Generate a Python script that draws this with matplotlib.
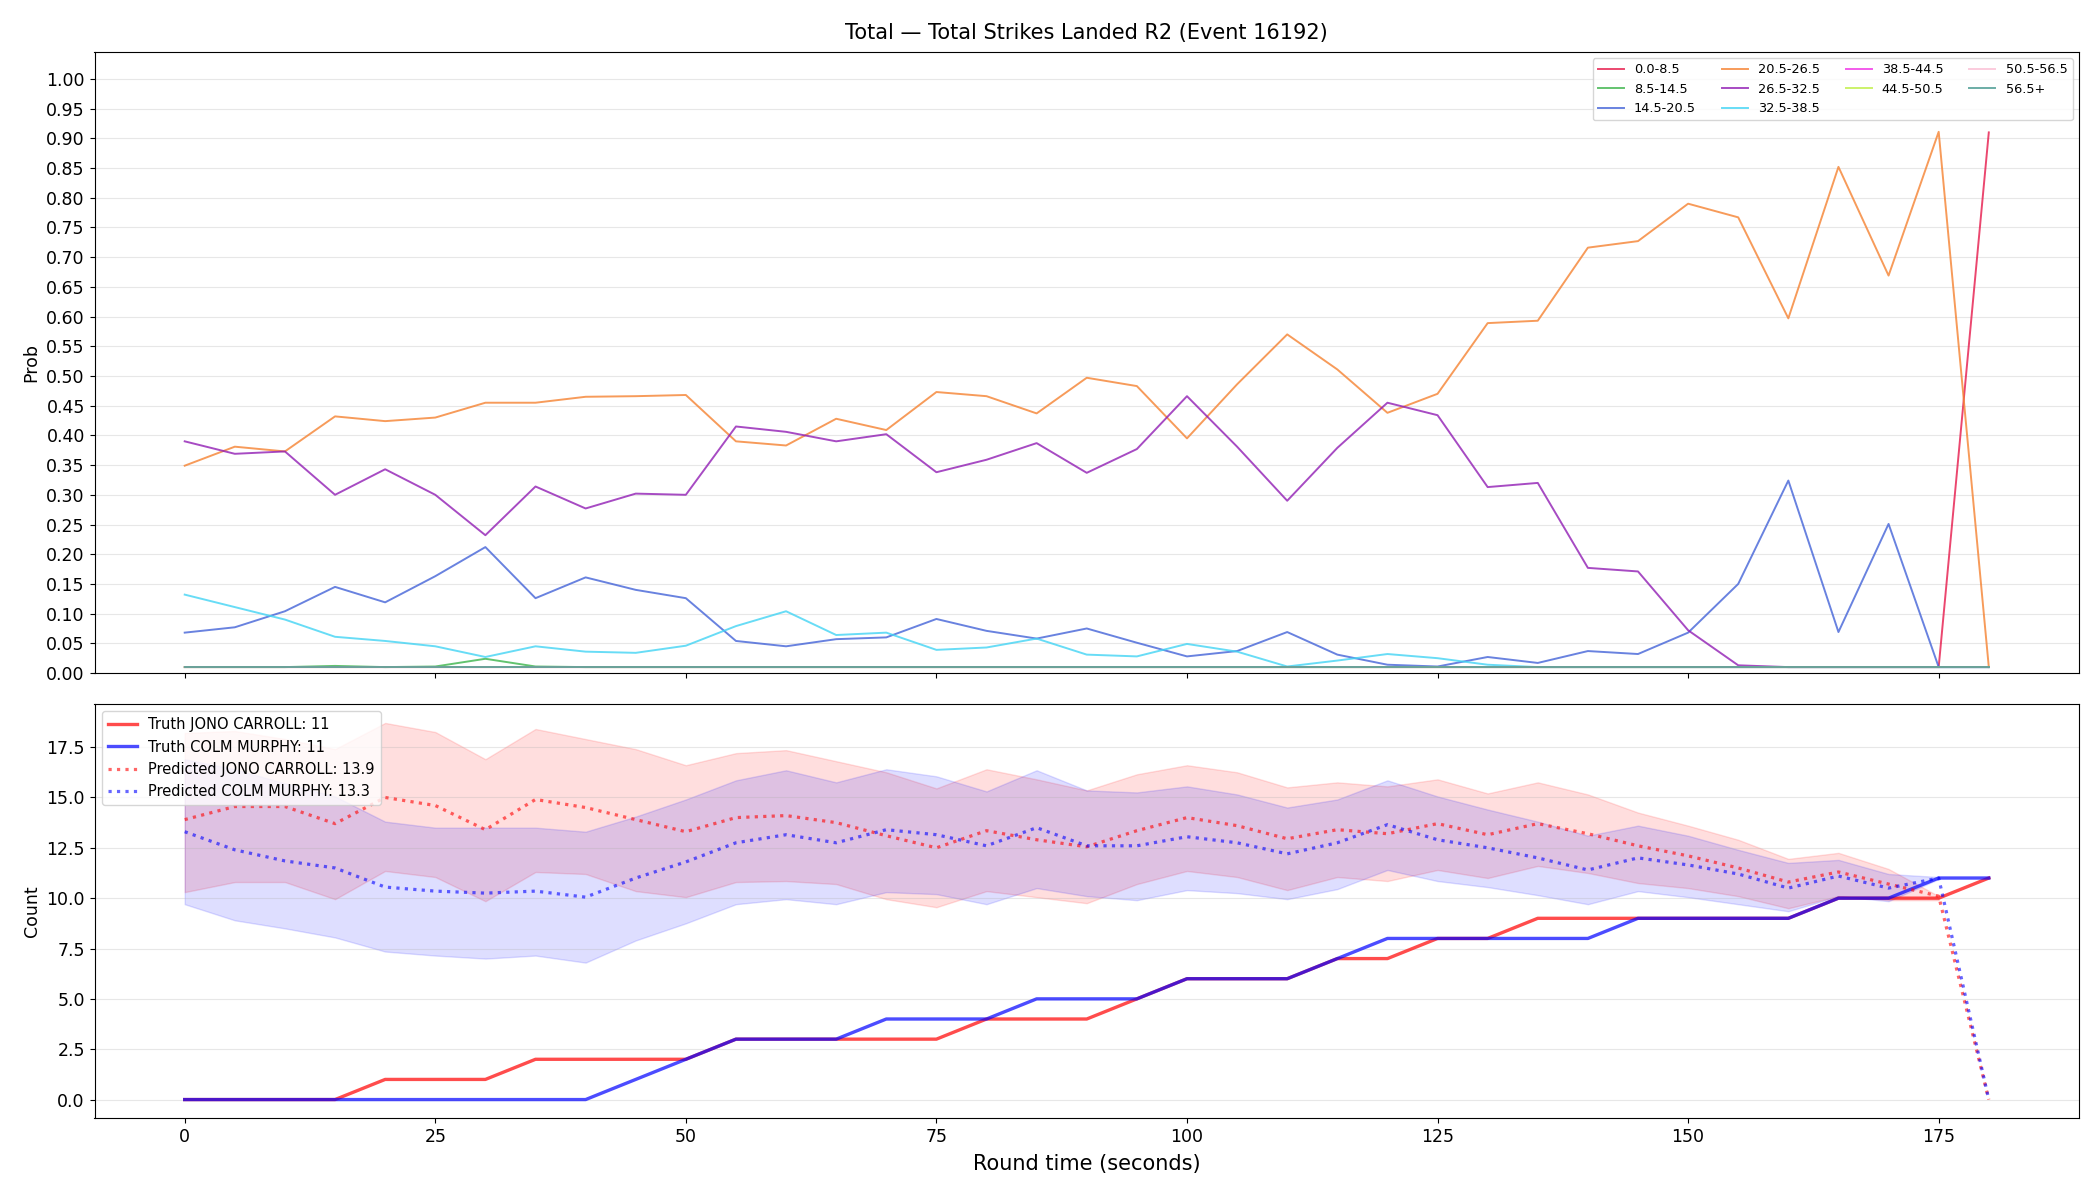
import matplotlib

matplotlib.use("Agg")
import matplotlib.pyplot as plt
from matplotlib.ticker import MultipleLocator

TITLE = "Total — Total Strikes Landed R2 (Event 16192)"

# round time in seconds (one sample every 5 s)
TIMES = [0, 5, 10, 15, 20, 25, 30, 35, 40, 45, 50, 55, 60, 65, 70, 75, 80, 85,
         90, 95, 100, 105, 110, 115, 120, 125, 130, 135, 140, 145, 150, 155,
         160, 165, 170, 175, 180]

BINS = ["0.0-8.5", "8.5-14.5", "14.5-20.5", "20.5-26.5", "26.5-32.5",
        "32.5-38.5", "38.5-44.5", "44.5-50.5", "50.5-56.5", "56.5+"]
BIN_COLORS = ["#e6194b", "#3cb44b", "#4363d8", "#f58231", "#911eb4",
              "#42d4f4", "#f032e6", "#bfef45", "#fabed4", "#469990"]

FLOOR = [0.01] * 37

prob_0_8 = [0.01] * 36 + [0.91]
prob_8_14 = [0.01, 0.01, 0.01, 0.012, 0.01, 0.011, 0.024, 0.011] + [0.01] * 29
prob_14_20 = [0.068, 0.077, 0.104, 0.145, 0.119, 0.163, 0.212, 0.126, 0.161,
              0.140, 0.126, 0.054, 0.045, 0.057, 0.060, 0.091, 0.071, 0.058,
              0.075, 0.051, 0.028, 0.037, 0.069, 0.031, 0.014, 0.011, 0.027,
              0.017, 0.037, 0.032, 0.068, 0.150, 0.324, 0.069, 0.251, 0.010,
              0.010]
prob_20_26 = [0.349, 0.381, 0.373, 0.432, 0.424, 0.430, 0.455, 0.455, 0.465,
              0.466, 0.468, 0.390, 0.383, 0.428, 0.409, 0.473, 0.466, 0.437,
              0.497, 0.483, 0.395, 0.486, 0.570, 0.511, 0.438, 0.470, 0.589,
              0.593, 0.716, 0.727, 0.790, 0.767, 0.597, 0.852, 0.669, 0.911,
              0.010]
prob_26_32 = [0.390, 0.369, 0.373, 0.300, 0.343, 0.300, 0.232, 0.314, 0.277,
              0.302, 0.300, 0.415, 0.406, 0.390, 0.402, 0.338, 0.359, 0.387,
              0.337, 0.377, 0.466, 0.381, 0.290, 0.379, 0.455, 0.434, 0.313,
              0.320, 0.177, 0.171, 0.072, 0.013, 0.010, 0.010, 0.010, 0.010,
              0.010]
prob_32_38 = [0.132, 0.111, 0.090, 0.061, 0.054, 0.045, 0.027, 0.045, 0.036,
              0.034, 0.046, 0.079, 0.104, 0.064, 0.068, 0.039, 0.043, 0.058,
              0.031, 0.028, 0.049, 0.036, 0.011, 0.021, 0.032, 0.025, 0.014]
prob_32_38 = prob_32_38 + [0.01] * 10
prob_38_44 = FLOOR
prob_44_50 = FLOOR
prob_50_56 = FLOOR
prob_56_up = FLOOR

PROBS = [prob_0_8, prob_8_14, prob_14_20, prob_20_26, prob_26_32,
         prob_32_38, prob_38_44, prob_44_50, prob_50_56, prob_56_up]

# fighters
FIGHTER_A = "JONO CARROLL"
FIGHTER_B = "COLM MURPHY"

truth_a = [0, 0, 0, 0, 1, 1, 1, 2, 2, 2, 2, 3, 3, 3, 3, 3, 4, 4, 4, 5, 6, 6, 6,
           7, 7, 8, 8, 9, 9, 9, 9, 9, 9, 10, 10, 10, 11]
truth_b = [0, 0, 0, 0, 0, 0, 0, 0, 0, 1, 2, 3, 3, 3, 4, 4, 4, 5, 5, 5, 6, 6, 6,
           7, 8, 8, 8, 8, 8, 9, 9, 9, 9, 10, 10, 11, 11]

pred_a = [13.9, 14.55, 14.55, 13.7, 15.0, 14.6, 13.4, 14.9, 14.5, 13.9, 13.3,
          14.0, 14.1, 13.75, 13.1, 12.5, 13.35, 12.9, 12.55, 13.35, 14.0, 13.6,
          12.95, 13.4, 13.2, 13.7, 13.15, 13.7, 13.2, 12.6, 12.1, 11.5, 10.8,
          11.3, 10.7, 10.1, 0.0]
pred_b = [13.3, 12.4, 11.85, 11.5, 10.55, 10.35, 10.25, 10.35, 10.05, 11.0,
          11.8, 12.75, 13.15, 12.75, 13.4, 13.15, 12.6, 13.5, 12.6, 12.6, 13.05,
          12.75, 12.2, 12.75, 13.65, 12.9, 12.5, 12.0, 11.4, 12.0, 11.65, 11.2,
          10.5, 11.1, 10.5, 11.0, 0.0]

# prediction bands (0..175 s)
band_a_hi = [18.2, 18.3, 17.9, 17.4, 18.7, 18.25, 16.9, 18.4, 17.9, 17.4, 16.6,
             17.2, 17.35, 16.8, 16.25, 15.45, 16.4, 15.9, 15.35, 16.15, 16.6,
             16.25, 15.5, 15.75, 15.55, 15.9, 15.2, 15.75, 15.15, 14.25, 13.6,
             12.9, 11.95, 12.25, 11.45, 10.1]
band_a_lo = [10.3, 10.8, 10.8, 9.95, 11.35, 11.05, 9.85, 11.3, 11.2, 10.35,
             10.05, 10.8, 10.85, 10.7, 9.95, 9.55, 10.35, 10.05, 9.75, 10.7,
             11.35, 11.05, 10.4, 11.05, 10.85, 11.4, 11.0, 11.6, 11.25, 10.75,
             10.5, 10.1, 9.5, 10.1, 9.9, 9.9]
band_b_hi = [16.9, 16.4, 15.7, 15.05, 13.8, 13.5, 13.5, 13.5, 13.3, 14.05, 14.9,
             15.85, 16.35, 15.75, 16.4, 16.05, 15.3, 16.35, 15.35, 15.25, 15.55,
             15.15, 14.5, 14.9, 15.85, 15.05, 14.4, 13.8, 13.1, 13.6, 13.1, 12.4,
             11.75, 11.9, 11.2, 11.05]
band_b_lo = [9.7, 8.9, 8.5, 8.05, 7.35, 7.15, 7.0, 7.15, 6.8, 7.9, 8.75, 9.7,
             9.95, 9.7, 10.3, 10.2, 9.7, 10.5, 10.1, 9.9, 10.4, 10.25, 9.95,
             10.45, 11.4, 10.85, 10.55, 10.15, 9.7, 10.35, 10.05, 9.7, 9.35,
             10.1, 9.85, 10.95]

plt.rcParams["xtick.labelsize"] = 12.5
plt.rcParams["ytick.labelsize"] = 12.5
plt.rcParams["axes.labelsize"] = 12.5


def plot_probs(ax):
    for name, color, vals in zip(BINS, BIN_COLORS, PROBS):
        ax.plot(TIMES, vals, color=color, lw=1.4, alpha=0.8, label=name)
    ax.set_ylim(0, 1.046)
    ax.yaxis.set_major_locator(MultipleLocator(0.05))
    ax.set_ylabel("Prob")
    ax.grid(True, axis="y", alpha=0.3)
    ax.legend(loc="upper right", ncol=4, fontsize=9.3)
    ax.set_title(TITLE, fontsize=15, pad=9)
    ax.tick_params(labelbottom=False)


def plot_counts(ax):
    band_t = TIMES[:len(band_a_hi)]
    ax.fill_between(band_t, band_a_lo, band_a_hi, color="red", alpha=0.13)
    ax.fill_between(band_t, band_b_lo, band_b_hi, color="blue", alpha=0.13)
    ax.plot(TIMES, truth_a, color="red", lw=2.4, alpha=0.7,
            label=f"Truth {FIGHTER_A}: {truth_a[-1]}")
    ax.plot(TIMES, truth_b, color="blue", lw=2.4, alpha=0.7,
            label=f"Truth {FIGHTER_B}: {truth_b[-1]}")
    ax.plot(TIMES, pred_a, color="red", ls=":", lw=2.3, alpha=0.6,
            label=f"Predicted {FIGHTER_A}: {pred_a[0]}")
    ax.plot(TIMES, pred_b, color="blue", ls=":", lw=2.3, alpha=0.6,
            label=f"Predicted {FIGHTER_B}: {pred_b[0]}")
    ax.set_ylabel("Count")
    ax.set_xlabel("Round time (seconds)", fontsize=15, labelpad=6)
    ax.grid(True, axis="y", alpha=0.3)
    ax.legend(loc="upper left", fontsize=10.5)


fig, (ax_top, ax_bot) = plt.subplots(
    2, 1, figsize=(21, 12), dpi=100, sharex=True,
    gridspec_kw={"height_ratios": [3, 2]},
)
plot_probs(ax_top)
plot_counts(ax_bot)
fig.subplots_adjust(left=0.045, right=0.99, top=0.957, bottom=0.068, hspace=0.06)
fig.savefig("out.png", dpi=100)
